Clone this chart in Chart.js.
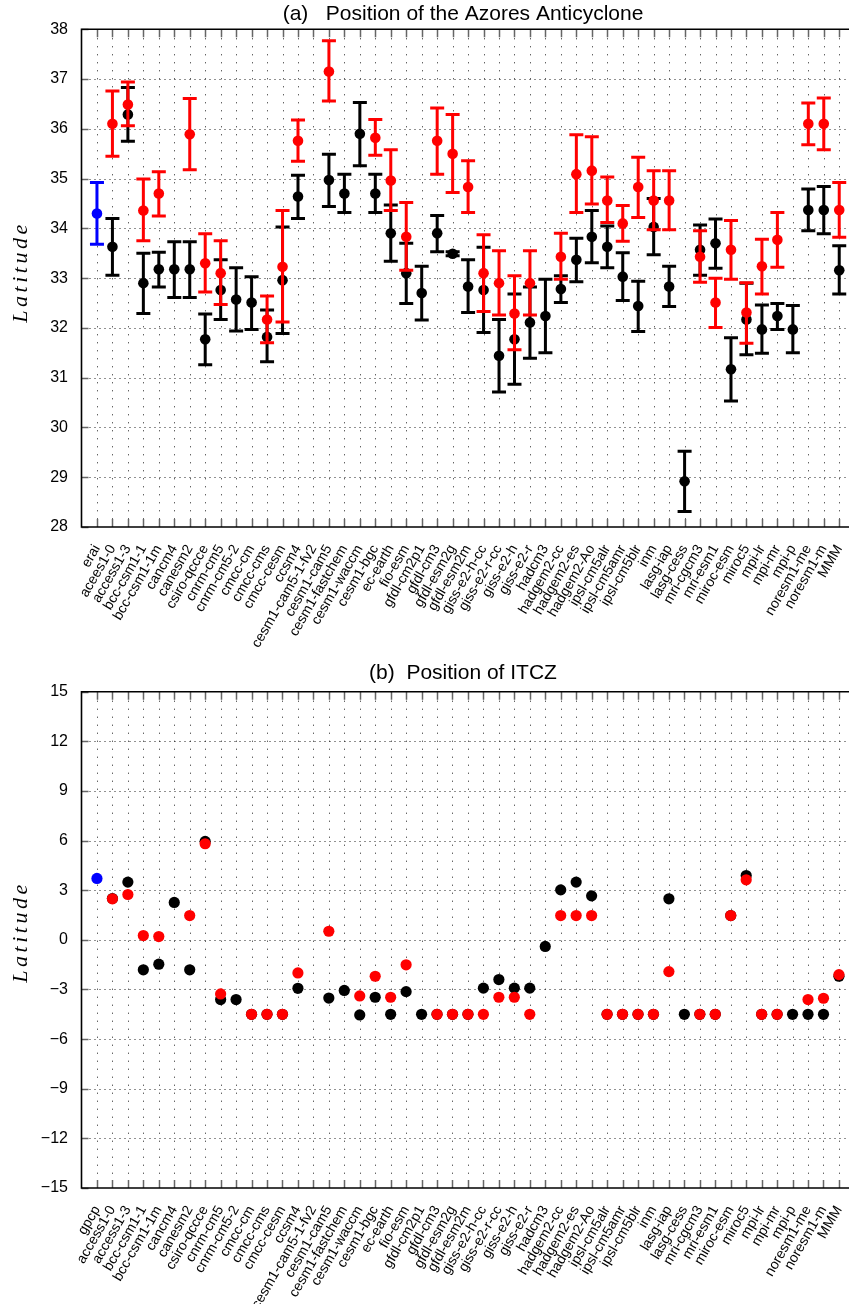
<!DOCTYPE html>
<html>
<head>
<meta charset="utf-8">
<script src="https://cdn.jsdelivr.net/npm/chart.js@4.4.1/dist/chart.umd.min.js"></script>
<style>
html,body{margin:0;padding:0;background:#fff;overflow:hidden;width:849px;height:1304px;position:relative}
canvas{position:absolute;left:0}
</style>
</head>
<body>
<canvas id="ca" width="860" height="650" style="top:0;width:860px;height:650px"></canvas>
<canvas id="cb" width="860" height="654" style="top:650px;width:860px;height:654px"></canvas>
<script>
// ---------------- DATA ----------------
const labelsA = ['erai','acees1-0','access1-3','bcc-csm1-1','bcc-csm1-1m','cancm4','canesm2','csiro-qccce','cnrm-cm5','cnrm-cm5-2','cmcc-cm','cmcc-cms','cmcc-cesm','ccsm4','cesm1-cam5-1-fv2','cesm1-cam5','cesm1-fastchem','cesm1-waccm','cesm1-bgc','ec-earth','fio-esm','gfdl-cm2p1','gfdl-cm3','gfdl-esm2g','gfdl-esm2m','giss-e2-h-cc','giss-e2-r-cc','giss-e2-h','giss-e2-r','hadcm3','hadgem2-cc','hadgem2-es','hadgem2-Ao','ipsl-cm5alr','ipsl-cm5amr','ipsl-cm5blr','inm','lasg-iap','lasg-cess','mri-cgcm3','mri-esm1','miroc-esm','miroc5','mpi-lr','mpi-mr','mpi-p','noresm1-me','noresm1-m','MMM'];
const labelsB = ['gpcp','access1-0','access1-3','bcc-csm1-1','bcc-csm1-1m','cancm4','canesm2','csiro-qccce','cnrm-cm5','cnrm-cm5-2','cmcc-cm','cmcc-cms','cmcc-cesm','ccsm4','cesm1-cam5-1-fv2','cesm1-cam5','cesm1-fastchem','cesm1-waccm','cesm1-bgc','ec-earth','fio-esm','gfdl-cm2p1','gfdl-cm3','gfdl-esm2g','gfdl-esm2m','giss-e2-h-cc','giss-e2-r-cc','giss-e2-h','giss-e2-r','hadcm3','hadgem2-cc','hadgem2-es','hadgem2-Ao','ipsl-cm5alr','ipsl-cm5amr','ipsl-cm5blr','inm','lasg-iap','lasg-cess','mri-cgcm3','mri-esm1','miroc-esm','miroc5','mpi-lr','mpi-mr','mpi-p','noresm1-me','noresm1-m','MMM'];

// Panel (a): Azores Anticyclone latitude, mean and range
const obsA    = [34.30];
const obsALo  = [33.68];
const obsAHi  = [34.92];
const blackA  = [null,33.63,36.29,32.90,33.18,33.18,33.18,31.77,32.76,32.57,32.51,31.82,32.96,34.64,null,34.97,34.70,35.90,34.70,33.90,33.10,32.70,33.90,33.49,32.83,32.76,31.44,31.77,32.11,32.24,32.78,33.37,33.83,33.63,33.03,32.44,34.03,32.83,28.92,33.57,33.70,31.17,32.17,31.97,32.24,31.97,34.37,34.37,33.16];
const blackALo= [null,33.06,35.75,32.29,32.82,32.61,32.61,31.26,32.17,31.94,31.97,31.32,31.89,34.20,null,34.44,34.32,35.26,34.32,33.34,32.49,32.16,33.53,33.45,32.31,31.91,30.71,30.87,31.39,31.50,32.51,32.93,33.31,33.21,32.55,31.93,33.47,32.43,28.31,33.06,33.20,30.53,31.46,31.49,31.97,31.50,33.95,33.89,32.68];
const blackAHi= [null,34.20,36.83,33.50,33.52,33.73,33.73,32.28,33.37,33.21,33.03,32.36,34.03,35.07,null,35.49,35.09,36.53,35.09,34.47,33.70,33.24,34.26,33.53,33.37,33.62,32.17,32.68,32.82,32.98,33.05,33.80,34.36,34.05,33.51,32.94,34.60,33.24,29.52,34.07,34.19,31.80,32.90,32.46,32.49,32.45,34.79,34.84,33.65];
const redA    = [null,36.10,36.49,34.36,34.70,null,35.89,33.30,33.10,null,null,32.17,33.23,35.76,null,37.15,null,null,35.82,34.96,33.83,null,35.76,35.50,34.83,33.10,32.90,32.29,32.90,null,33.43,35.09,35.16,34.56,34.10,34.83,34.56,34.56,null,33.43,32.51,33.57,32.31,33.24,33.77,null,36.10,36.10,34.37];
const redALo  = [null,35.45,36.06,33.75,34.25,null,35.18,32.72,32.47,null,null,31.70,32.12,35.35,null,36.56,null,null,35.47,34.36,33.16,null,35.09,34.72,34.32,32.33,32.26,31.56,32.26,null,32.98,34.32,34.49,34.12,33.74,34.22,33.97,33.97,null,32.92,32.01,32.98,31.69,32.68,33.22,null,35.68,35.58,33.82];
const redAHi  = [null,36.76,36.94,34.99,35.14,null,36.61,33.89,33.75,null,null,32.64,34.36,36.18,null,37.77,null,null,36.19,35.58,34.52,null,36.42,36.29,35.36,33.87,33.55,33.05,33.55,null,33.90,35.88,35.84,35.03,34.46,35.43,35.16,35.16,null,33.95,33.00,34.16,32.91,33.78,34.32,null,36.52,36.62,34.92];

// Panel (b): ITCZ latitude
const obsB   = [3.71];
const blackB = [null,2.50,3.49,-1.81,-1.47,2.26,-1.81,5.95,-3.61,-3.61,-4.5,-4.5,-4.5,-2.93,null,-3.52,-3.06,-4.54,-3.47,-4.5,-3.13,-4.5,-4.5,-4.5,-4.5,-2.92,-2.40,-2.92,-2.92,-0.40,3.02,3.49,2.66,-4.5,-4.5,-4.5,-4.5,2.48,-4.5,-4.5,-4.5,1.47,3.89,-4.5,-4.5,-4.5,-4.5,-4.5,-2.20];
const redB   = [null,2.48,2.74,0.26,0.20,null,1.47,5.81,-3.27,null,-4.5,-4.5,-4.5,-2.00,null,0.52,null,-3.39,-2.20,-3.47,-1.51,null,-4.5,-4.5,-4.5,-4.5,-3.47,-3.47,-4.5,null,1.47,1.47,1.47,-4.5,-4.5,-4.5,-4.5,-1.92,null,-4.5,-4.5,1.47,3.63,-4.5,-4.5,null,-3.61,-3.53,-2.10];

const yTicksA = [28,29,30,31,32,33,34,35,36,37,38];
const yTicksB = [-15,-12,-9,-6,-3,0,3,6,9,12,15];

// ---------------- HELPERS ----------------
const SANS = '"Liberation Sans", Arial, Helvetica, sans-serif';
const SERIF = '"Liberation Serif", "Times New Roman", serif';
const toPts = arr => arr.map((v,i)=> v==null ? null : {x:i, y:v}).filter(p=>p);

const errorBars = {
  id:'errorBars',
  beforeDatasetDraw(chart, args){
    const ds = chart.data.datasets[args.index];
    if (!ds.errLo) return;
    const ctx = chart.ctx, xs = chart.scales.x, ys = chart.scales.y;
    ctx.save();
    ctx.strokeStyle = ds.backgroundColor;
    ctx.lineWidth = 3;
    ctx.lineCap = 'butt';
    ds.data.forEach(p=>{
      const lo = ds.errLo[p.x], hi = ds.errHi[p.x];
      if (lo==null || hi==null) return;
      const px = xs.getPixelForValue(p.x);
      const pl = ys.getPixelForValue(lo), ph = ys.getPixelForValue(hi);
      ctx.beginPath();
      ctx.moveTo(px, pl); ctx.lineTo(px, ph);
      ctx.moveTo(px-7, pl); ctx.lineTo(px+7, pl);
      ctx.moveTo(px-7, ph); ctx.lineTo(px+7, ph);
      ctx.stroke();
    });
    ctx.restore();
  }
};

function framePlugin(nCat, titleText, titleY, yTitleY){
  return {
    id:'frame',
    beforeDatasetsDraw(chart){
      const ctx = chart.ctx, a = chart.chartArea, xs = chart.scales.x, ys = chart.scales.y;
      ctx.save();
      ctx.strokeStyle = '#222';
      ctx.lineWidth = 1;
      // vertical dotted grid at each category
      ctx.setLineDash([1,7]);
      for (let i=0;i<nCat;i++){
        const px = Math.round(xs.getPixelForValue(i))+0.5;
        ctx.beginPath(); ctx.moveTo(px, a.top+9); ctx.lineTo(px, a.bottom-8); ctx.stroke();
      }
      // horizontal dotted grid at major ticks
      ctx.setLineDash([1,4]);
      ys.ticks.forEach(t=>{
        if (t.value<=ys.min || t.value>=ys.max) return;
        const py = Math.round(ys.getPixelForValue(t.value))+0.5;
        ctx.beginPath(); ctx.moveTo(a.left+8, py); ctx.lineTo(a.right, py); ctx.stroke();
      });
      ctx.setLineDash([]);
      // inward tick marks
      ctx.strokeStyle = '#666';
      ctx.lineWidth = 1.5;
      for (let i=0;i<nCat;i++){
        const px = Math.round(xs.getPixelForValue(i))+0.5;
        ctx.beginPath();
        ctx.moveTo(px, a.bottom); ctx.lineTo(px, a.bottom-8);
        ctx.moveTo(px, a.top); ctx.lineTo(px, a.top+8);
        ctx.stroke();
      }
      ys.ticks.forEach(t=>{
        const py = Math.round(ys.getPixelForValue(t.value))+0.5;
        ctx.beginPath(); ctx.moveTo(a.left, py); ctx.lineTo(a.left+7, py); ctx.stroke();
      });
      ctx.restore();
    },
    afterDraw(chart){
      const ctx = chart.ctx, a = chart.chartArea;
      ctx.save();
      // axis lines (left, bottom, top)
      ctx.strokeStyle = '#000';
      ctx.lineWidth = 1.6;
      ctx.beginPath();
      ctx.moveTo(a.left, a.top); ctx.lineTo(a.left, a.bottom);
      ctx.moveTo(a.left-0.8, a.bottom); ctx.lineTo(a.right, a.bottom);
      ctx.moveTo(a.left-0.8, a.top); ctx.lineTo(a.right, a.top);
      ctx.stroke();
      // title
      ctx.fillStyle = '#000';
      ctx.font = '21px ' + SANS;
      ctx.textAlign = 'center';
      ctx.textBaseline = 'middle';
      ctx.fillText(titleText, 463, titleY);
      // y title
      ctx.translate(21, yTitleY);
      ctx.rotate(-Math.PI/2);
      ctx.font = 'italic 22px ' + SERIF;
      if ('letterSpacing' in ctx) ctx.letterSpacing = '3.5px';
      ctx.fillText('Latitude', 0, 0);
      ctx.restore();
    }
  };
}

function makeOptions(labels, ymin, ymax, yTicks, padTop, xHeight, fmt){
  return {
    responsive:false,
    animation:false,
    devicePixelRatio:1,
    layout:{padding:{top:padTop, right:3.8, left:0, bottom:0}},
    plugins:{legend:{display:false}, tooltip:{enabled:false}, title:{display:false}},
    scales:{
      x:{
        type:'linear', min:-1, max:49,
        afterBuildTicks(s){ s.ticks = s.ticks.filter(t=> t.value>=0 && t.value<labels.length); },
        afterFit(s){ s.height = xHeight; s.paddingLeft = 0; s.paddingRight = 0; },
        grid:{display:false}, border:{display:false},
        ticks:{stepSize:1, autoSkip:false, minRotation:60, maxRotation:60, padding:7,
               color:'#000', font:{family:SANS, size:14},
               callback:(v)=> labels[Math.round(v)] ?? ''}
      },
      y:{
        min:ymin, max:ymax,
        afterBuildTicks(s){ s.ticks = yTicks.map(v=>({value:v})); },
        afterFit(s){ s.width = 81.5; s.paddingTop = 0; s.paddingBottom = 0; },
        grid:{display:false}, border:{display:false},
        ticks:{padding:5.5, color:'#000', font:{family:SANS, size:16}, callback:fmt}
      }
    }
  };
}

const minusFmt = v => v<0 ? '\u2212' + Math.abs(v) : String(v);

new Chart(document.getElementById('ca'), {
  type:'scatter',
  data:{datasets:[
    {data:toPts(obsA), backgroundColor:'#0000ff', errLo:obsALo, errHi:obsAHi, pointRadius:5.3, pointBorderWidth:0, pointHoverRadius:5.3},
    {data:toPts(redA), backgroundColor:'#ff0000', errLo:redALo, errHi:redAHi, pointRadius:5.3, pointBorderWidth:0, pointHoverRadius:5.3},
    {data:toPts(blackA), backgroundColor:'#000000', errLo:blackALo, errHi:blackAHi, pointRadius:5.3, pointBorderWidth:0, pointHoverRadius:5.3}
  ]},
  options: makeOptions(labelsA, 28, 38, yTicksA, 29.3, 123, v=>String(v)),
  plugins:[errorBars, framePlugin(labelsA.length, '(a)   Position of the Azores Anticyclone', 14, 272)]
});

new Chart(document.getElementById('cb'), {
  type:'scatter',
  data:{datasets:[
    {data:toPts(obsB), backgroundColor:'#0000ff', pointRadius:5.6, pointBorderWidth:0, pointHoverRadius:5.6},
    {data:toPts(redB), backgroundColor:'#ff0000', pointRadius:5.6, pointBorderWidth:0, pointHoverRadius:5.6},
    {data:toPts(blackB), backgroundColor:'#000000', pointRadius:5.6, pointBorderWidth:0, pointHoverRadius:5.6}
  ]},
  options: makeOptions(labelsB, -15, 15, yTicksB, 41.7, 116, minusFmt),
  plugins:[framePlugin(labelsB.length, '(b)  Position of ITCZ', 23.5, 282)]
});
</script>
</body>
</html>
